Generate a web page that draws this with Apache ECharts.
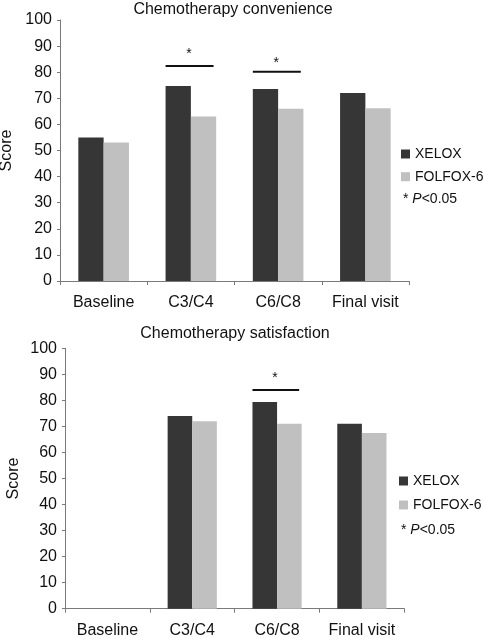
<!DOCTYPE html>
<html>
<head>
<meta charset="utf-8">
<script src="https://cdn.jsdelivr.net/npm/echarts@6/dist/echarts.min.js"></script>
<style>
html,body{margin:0;padding:0;background:#fff;}
#main{width:484px;height:638px;}
</style>
</head>
<body>
<div id="main"></div>
<script>
// ---- data ----
var categories = ['Baseline', 'C3/C4', 'C6/C8', 'Final visit'];
var seriesNames = ['XELOX', 'FOLFOX-6'];
var yTicks = [0, 100, 10]; // min, max, interval
var convenienceXelox = [55, 74.7, 73.6, 72];
var convenienceFolfox = [53.1, 63, 66, 66.2];
var satisfactionXelox = [null, 74, 79.4, 71];
var satisfactionFolfox = [null, 72, 71, 67.5];
// significance marks: [category index, line value, star value]
var convenienceSig = [[1, 82.4, 88], [2, 80.2, 84.7]];
var satisfactionSig = [[2, 84, 89.7]];
var titles = ['Chemotherapy convenience', 'Chemotherapy satisfaction'];
var yName = 'Score';
var sigNote = ['* ', 'P', '<0.05'];

// ---- styles ----
var FONT = '"Liberation Sans", Arial, sans-serif';
var DARK = '#363636', LIGHT = '#c0c0c0', AXIS = '#7a7a7a', TXT = '#111';

function xAx(gi) {
  return {
    type: 'category', gridIndex: gi, data: categories,
    axisLine: {lineStyle: {color: AXIS, width: 1}},
    axisTick: {show: true, length: 4, lineStyle: {color: AXIS}},
    axisLabel: {color: TXT, fontFamily: FONT, fontSize: 16, margin: 14, interval: 0}
  };
}
function yAx(gi, gap) {
  return {
    type: 'value', gridIndex: gi, min: yTicks[0], max: yTicks[1], interval: yTicks[2],
    name: yName, nameLocation: 'middle', nameGap: gap, nameRotate: 90, nameMoveOverlap: false,
    nameTextStyle: {color: TXT, fontFamily: FONT, fontSize: 16},
    axisLine: {show: true, lineStyle: {color: AXIS, width: 1}},
    axisTick: {show: true, length: 3, lineStyle: {color: AXIS}},
    splitLine: {show: false},
    axisLabel: {color: TXT, fontFamily: FONT, fontSize: 16, margin: 8}
  };
}
function bars(name, data, gi, color) {
  return {
    type: 'bar', name: name, data: data, xAxisIndex: gi, yAxisIndex: gi,
    barGap: '0%', barCategoryGap: '42%', itemStyle: {color: color},
    emphasis: {disabled: true}, animation: false
  };
}
function sig(data, gi) {
  return {
    type: 'custom', xAxisIndex: gi, yAxisIndex: gi, data: data, animation: false, silent: true,
    renderItem: function (params, api) {
      var idx = api.value(0);
      var pl = api.coord([idx, api.value(1)]);
      var ps = api.coord([idx, api.value(2)]);
      var bw = api.size([1, 0])[0];
      return {
        type: 'group',
        children: [
          {type: 'line', shape: {x1: pl[0] - 0.29 * bw, y1: pl[1], x2: pl[0] + 0.26 * bw, y2: pl[1]},
           style: {stroke: '#111', lineWidth: 2}},
          {type: 'text', style: {text: '*', x: ps[0] - 2, y: ps[1] + 3, align: 'center', verticalAlign: 'middle',
           font: '14px ' + FONT, fill: '#111'}}
        ]
      };
    }
  };
}
function note(x, y) {
  return {
    type: 'text', left: x, top: y,
    style: {
      text: '{a|' + sigNote[0] + '}{i|' + sigNote[1] + '}{a|' + sigNote[2] + '}',
      rich: {
        a: {fontFamily: FONT, fontSize: 14, fill: TXT},
        i: {fontFamily: FONT, fontSize: 14, fontStyle: 'italic', fill: TXT}
      }
    }
  };
}

var chart = echarts.init(document.getElementById('main'), null, {renderer: 'canvas'});
chart.setOption({
  animation: false,
  backgroundColor: '#fff',
  title: [
    {text: titles[0], left: 233, top: 2, textAlign: 'center', padding: 0,
     textStyle: {fontFamily: FONT, fontSize: 16, fontWeight: 'normal', color: TXT}},
    {text: titles[1], left: 235, top: 326, textAlign: 'center', padding: 0,
     textStyle: {fontFamily: FONT, fontSize: 16, fontWeight: 'normal', color: TXT}}
  ],
  legend: [
    {orient: 'vertical', left: 401, top: 147, padding: 0, itemGap: 8.7, itemWidth: 9, itemHeight: 9,
     icon: 'rect', data: seriesNames, selectedMode: false,
     textStyle: {fontFamily: FONT, fontSize: 14, color: TXT}},
    {orient: 'vertical', left: 399, top: 474, padding: 0, itemGap: 10, itemWidth: 9, itemHeight: 9,
     icon: 'rect', data: seriesNames, selectedMode: false,
     textStyle: {fontFamily: FONT, fontSize: 14, color: TXT}}
  ],
  grid: [
    {left: 60, top: 20, width: 349, height: 261, containLabel: false, outerBoundsMode: 'none'},
    {left: 65, top: 348.3, width: 339.3, height: 260.4, containLabel: false, outerBoundsMode: 'none'}
  ],
  xAxis: [xAx(0), xAx(1)],
  yAxis: [yAx(0, 45), yAx(1, 43)],
  series: [
    bars(seriesNames[0], convenienceXelox, 0, DARK),
    bars(seriesNames[1], convenienceFolfox, 0, LIGHT),
    sig(convenienceSig, 0),
    bars(seriesNames[0], satisfactionXelox, 1, DARK),
    bars(seriesNames[1], satisfactionFolfox, 1, LIGHT),
    sig(satisfactionSig, 1)
  ],
  graphic: [note(403, 192), note(401, 523)]
});
</script>
</body>
</html>
